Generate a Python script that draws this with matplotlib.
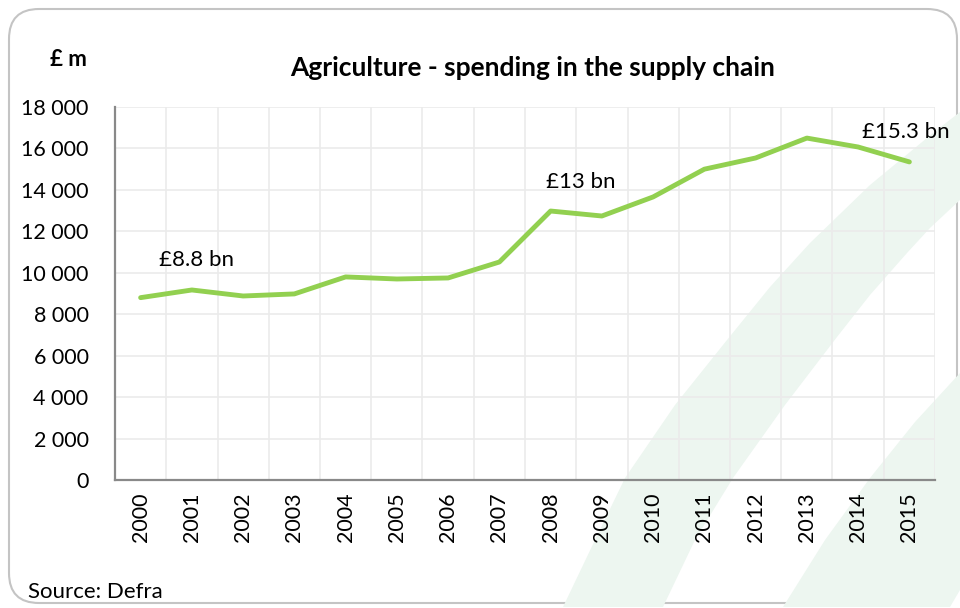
import matplotlib.pyplot as plt
from matplotlib.patches import FancyBboxPatch, Polygon
from matplotlib.ticker import FuncFormatter

plt.rcParams['font.family'] = ['Lato', 'DejaVu Sans']

years = ['2000', '2001', '2002', '2003', '2004', '2005', '2006', '2007',
         '2008', '2009', '2010', '2011', '2012', '2013', '2014', '2015']
spending = [8800, 9170, 8880, 8980, 9800, 9700, 9750, 10520,
            12980, 12740, 13660, 15000, 15540, 16500, 16070, 15350]
labels = {0: '£8.8 bn', 8: '£13 bn', 15: '£15.3 bn'}

fig = plt.figure(figsize=(9.6, 6.08), dpi=100)

# background: rounded frame and pale green swooshes (pixel coords)
bg = fig.add_axes([0, 0, 1, 1])
bg.set_xlim(0, 960)
bg.set_ylim(608, 0)
bg.axis('off')
bg.add_patch(FancyBboxPatch((9, 9), 948, 594, boxstyle='round,pad=0,rounding_size=30',
                            facecolor='white', edgecolor='#c4c4c4', linewidth=1.5))
sw = '#edf6f0'
bg.add_patch(Polygon([(563, 607), (595, 540), (625, 478), (675, 405), (727, 340), (770, 287),
                      (810, 243), (870, 185), (933, 133), (960, 112),
                      (960, 200), (930, 228), (907, 253), (870, 295), (837, 337), (785, 405),
                      (733, 478), (695, 540), (663, 607)],
                     closed=True, facecolor=sw, edgecolor='none'))
bg.add_patch(Polygon([(783, 607), (825, 540), (870, 478), (915, 422), (960, 373),
                      (960, 590), (950, 607)],
                     closed=True, facecolor=sw, edgecolor='none'))

ax = fig.add_axes([115 / 960, 128 / 608, 820 / 960, 373 / 608])
ax.patch.set_alpha(0)
x = list(range(len(years)))
ax.plot(x, spending, color='#92d050', linewidth=3.5, solid_capstyle='round', zorder=3)

ax.set_xlim(-0.5, len(years) - 0.5)
ax.set_ylim(0, 18000)
ax.set_yticks(range(0, 18001, 2000))
ax.yaxis.set_major_formatter(FuncFormatter(lambda v, p: f'{int(v):,}'.replace(',', ' ')))
ax.set_xticks(x)
ax.set_xticklabels(years, rotation=90)
ax.set_xticks([i - 0.5 for i in range(len(years) + 1)], minor=True)
ax.grid(True, which='major', axis='y', color='#ebebeb', linewidth=1.2)
ax.grid(True, which='minor', axis='x', color='#ebebeb', linewidth=1.2)
ax.tick_params(which='both', length=0, labelsize=15.5)
ax.tick_params(axis='y', pad=19)
ax.tick_params(axis='x', pad=9)
for s in ['top', 'right']:
    ax.spines[s].set_visible(False)
for s in ['left', 'bottom']:
    ax.spines[s].set_color('#898989')
    ax.spines[s].set_linewidth(1.6)

offsets = {0: (40, 20), 8: (22, 14), 15: (-34, 14)}
for i, t in labels.items():
    ax.annotate(t, (x[i], spending[i]), textcoords='offset points', xytext=offsets[i],
                ha='center' if i != 15 else 'left', va='bottom', fontsize=16)

fig.text(533 / 960, 1 - 68 / 608, 'Agriculture - spending in the supply chain',
         ha='center', va='center', fontsize=19, fontweight='bold')
fig.text(68 / 960, 1 - 60 / 608, '£ m', ha='center', va='center', fontsize=16, fontweight='bold')
fig.text(28 / 960, 1 - 592 / 608, 'Source: Defra', ha='left', va='center', fontsize=16)

fig.savefig('out.png', dpi=100)
